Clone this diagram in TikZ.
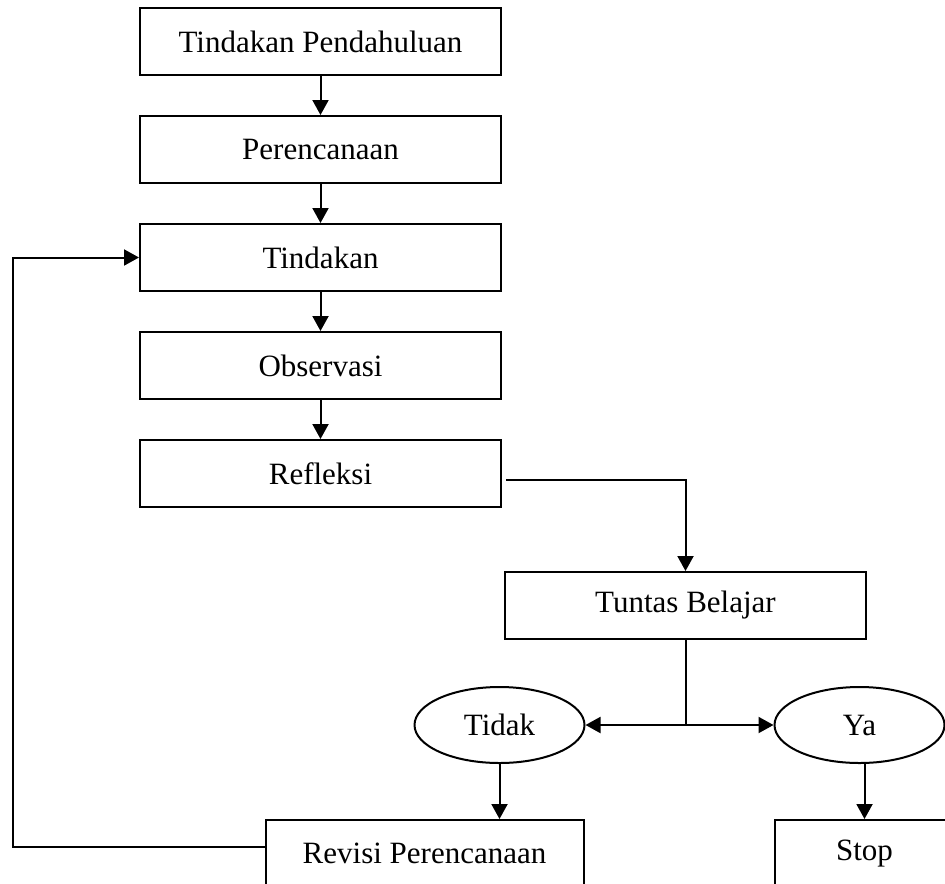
\documentclass[tikz,border=0pt]{standalone}
\usepackage{fontspec}
\setmainfont{Liberation Serif}
\usetikzlibrary{shapes,arrows.meta,positioning,calc}
\tikzset{
block/.style = {draw, fill=white, rectangle, minimum height=33.5pt, minimum width=180.5pt},
decision/.style = {draw, fill=white, ellipse, minimum height=38pt, minimum width=85pt},
tmp/.style = {coordinate}
}

\begin{document}
\begin{tikzpicture}[auto, node distance=54pt, line width=1pt, >={Triangle[length=7.5pt,width=8pt]}, font=\fontsize{15.5}{18}\selectfont]
    \useasboundingbox (0,0) rectangle (472.5pt,-441.5pt);
    \node [block] (pendahuluan) at (160.25pt,-20.75pt) {Tindakan Pendahuluan};
    \node [block, below of=pendahuluan] (perencanaan) {Perencanaan};
    \node [block, below of=perencanaan] (tindakan) {Tindakan};
    \node [block, below of=tindakan] (observasi) {Observasi};
    \node [block, below of=observasi] (refleksi) {Refleksi};
    \node [block, right of=refleksi, node distance=182.5pt, yshift=-66pt] (tuntas) {Tuntas Belajar};
    \node [tmp, below of=tuntas, node distance=59.75pt] (cabang) {};
    \node [decision, left of=cabang, node distance=93pt] (tidak) {Tidak};
    \node [decision, right of=cabang, node distance=87pt] (ya) {Ya};
    \node [block, minimum width=159pt, below of=tidak, node distance=64.25pt, xshift=-37.5pt] (revisi) {Revisi Perencanaan};
    \node [block, minimum width=90pt, below of=ya, node distance=64.25pt, xshift=2.5pt] (stop) {Stop};
    \node [tmp] (balik) at (6.5pt,0) {};
    \draw [->] (pendahuluan) -- (perencanaan);
    \draw [->] (perencanaan) -- (tindakan);
    \draw [->] (tindakan) -- (observasi);
    \draw [->] (observasi) -- (refleksi);
    \draw [->, shorten <=2pt] ([yshift=-3pt]refleksi.east) -| (tuntas.north);
    \draw [-] (tuntas) -- (cabang);
    \draw [->] (cabang) -- (tidak);
    \draw [->] (cabang) -- (ya);
    \draw [->] (tidak.south) -- (tidak.south |- revisi.north);
    \draw [->] (stop.north |- ya.south) -- (stop.north);
    \draw [->] ([yshift=3.5pt]revisi.west) -- ([yshift=3.5pt]revisi.west -| balik) |- (tindakan.west);
\end{tikzpicture}
\end{document}
